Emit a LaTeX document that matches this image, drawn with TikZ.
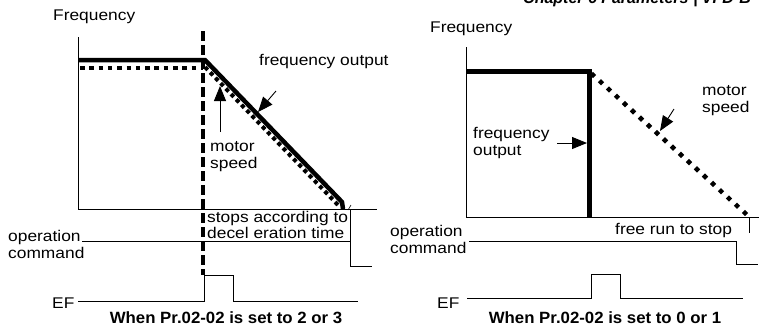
\documentclass[tikz,border=0pt]{standalone}
\usepackage{fontspec}
\setmainfont{Liberation Sans}
\newfontfamily\labfont[FakeStretch=1.12]{Liberation Sans}
\newfontfamily\capfont[FakeStretch=1.03]{Liberation Sans}
\usetikzlibrary{arrows.meta,calc}
\begin{document}
\begin{tikzpicture}[x=1pt,y=-1pt,
  lbl/.style={font=\labfont\fontsize{15.5}{17}\selectfont, inner sep=0pt, anchor=base west},
  captext/.style={font=\capfont\bfseries\fontsize{16.3}{18}\selectfont, inner sep=0pt, anchor=base},
  hdr/.style={font=\bfseries\itshape\fontsize{16}{18}\selectfont, inner sep=0pt, anchor=base west},
  axisline/.style={line width=0.9pt},
  sigline/.style={line width=0.9pt},
  freqline/.style={line width=4.5pt},
  speedsq/.style={line width=4.5pt, dash pattern=on 4.5pt off 4.8pt},
  cutline/.style={line width=3.5pt, dash pattern=on 10pt off 4pt},
  pointer/.style={line width=0.9pt, -{Triangle[length=15pt,width=12pt]}},
  dotfill/.style={fill=black}
]
\useasboundingbox (0,0) rectangle (761,330);
\clip (0,0) rectangle (761,330);

% header (cut off at top)
\node[hdr] (hdr) at (523,3.5) {Chapter 6 Parameters | VFD-B};

% ================= LEFT PANEL =================
\coordinate (Ltop) at (78,37);
\coordinate (Lorig) at (78,209);
\coordinate (Lend) at (377,209);
\draw[axisline] (Ltop) -- (Lorig) -- (Lend);

\node[lbl] (Lfreq) at (53,20.5) {Frequency};

% frequency output
\coordinate (Lf0) at (78,60);
\coordinate (Lf1) at (205,60);
\coordinate (Lf2) at (342,202);
\coordinate (Lf3) at (343,209);
\draw[freqline] (Lf0) -- (Lf1) -- (Lf2) -- (Lf3);

% motor speed (square dots)
\coordinate (Ls0) at (80,68);
\coordinate (Ls1) at (203,68);
\coordinate (Ls2) at (205,67);
\coordinate (Ls3) at (338,205);
\draw[speedsq] (Ls0) -- (Ls1);
\draw[speedsq, dash pattern=on 4pt off 3.5pt, line width=4pt] (Ls2) -- (Ls3);

% dashed vertical cut
\coordinate (Lc0) at (203,31);
\coordinate (Lc1) at (203,275);
\draw[cutline] (Lc0) -- (Lc1);

% labels
\node[lbl] (Lfo) at (259,65) {frequency output};
\coordinate (Lfoa) at (276,91);
\coordinate (Lfob) at (258,112);
\draw[pointer] (Lfoa) -- (Lfob);

\node[lbl] (Lms1) at (210,151) {motor};
\node[lbl] (Lms2) at (210,168) {speed};
\coordinate (Lmsa) at (220,132);
\coordinate (Lmsb) at (220,86);
\draw[pointer] (Lmsa) -- (Lmsb);

\node[lbl] (Lst1) at (207,222) {stops according to};
\node[lbl] (Lst2) at (207,238) {decel eration time};

% stop marker
\coordinate (Lm0) at (350,210);
\coordinate (Lm1) at (350,241);
\draw[sigline] (Lm0) -- (Lm1);
\coordinate (Lt0) at (348,210);
\coordinate (Lt1) at (351,205);
\draw[line width=0.6pt] (Lt0) -- (Lt1);

% operation command
\node[lbl] (Lop1) at (8,241) {operation};
\node[lbl] (Lop2) at (8,258) {command};
\coordinate (Lo0) at (82,241);
\coordinate (Lo1) at (350,241);
\coordinate (Lo2) at (350,266);
\coordinate (Lo3) at (372,266);
\draw[sigline] (Lo0) -- (Lo1) -- (Lo2) -- (Lo3);

% EF
\node[lbl] (Lef) at (52,308) {EF};
\coordinate (Le0) at (78,301);
\coordinate (Le1) at (204,301);
\coordinate (Le2) at (204,275);
\coordinate (Le3) at (233,275);
\coordinate (Le4) at (233,301);
\coordinate (Le5) at (358,301);
\draw[sigline] (Le0) -- (Le1) -- (Le2) -- (Le3) -- (Le4) -- (Le5);

\node[captext] (Lcap) at (226,323) {When Pr.02-02 is set to 2 or 3};

% ================= RIGHT PANEL =================
\coordinate (Rtop) at (466,47);
\coordinate (Rorig) at (466,217);
\coordinate (Rend) at (759,217);
\draw[axisline] (Rtop) -- (Rorig) -- (Rend);

\node[lbl] (Rfreq) at (430,32) {Frequency};

% frequency output
\coordinate (Rf0) at (466,71);
\coordinate (Rf1) at (589,71);
\coordinate (Rf2) at (589,217);
\draw[freqline, line width=5pt] (Rf0) -- (Rf1) -- (Rf2);

% motor speed (diamond dots)
\coordinate (Rs0) at (593,75);
\coordinate (Rs1) at (745,213);
\foreach \i in {0,...,19} {
  \fill[dotfill] ($(Rs0)!\i/19!(Rs1)$) +(0,-3.2) -- +(3.2,0) -- +(0,3.2) -- +(-3.2,0) -- cycle;
}

\node[lbl] (Rms1) at (702,95) {motor};
\node[lbl] (Rms2) at (702,112) {speed};
\coordinate (Rmsa) at (674,109);
\coordinate (Rmsb) at (660,131);
\draw[pointer] (Rmsa) -- (Rmsb);

\node[lbl] (Rfo1) at (473,138) {frequency};
\node[lbl] (Rfo2) at (473,155) {output};
\coordinate (Rfoa) at (557,143);
\coordinate (Rfob) at (587,143);
\draw[pointer] (Rfoa) -- (Rfob);

% free run marker
\coordinate (Rm0) at (749,217);
\coordinate (Rm1) at (749,233);
\draw[sigline] (Rm0) -- (Rm1);
\node[lbl] (Rfr) at (615,234) {free run to stop};

% operation command
\node[lbl] (Rop1) at (390,236) {operation};
\node[lbl] (Rop2) at (390,253) {command};
\coordinate (Ro0) at (469,241);
\coordinate (Ro1) at (736,241);
\coordinate (Ro2) at (736,264);
\coordinate (Ro3) at (758,264);
\draw[sigline] (Ro0) -- (Ro1) -- (Ro2) -- (Ro3);

% EF
\node[lbl] (Ref) at (437,308) {EF};
\coordinate (Re0) at (467,298);
\coordinate (Re1) at (591,298);
\coordinate (Re2) at (591,274);
\coordinate (Re3) at (620,274);
\coordinate (Re4) at (620,298);
\coordinate (Re5) at (743,298);
\draw[sigline] (Re0) -- (Re1) -- (Re2) -- (Re3) -- (Re4) -- (Re5);

\node[captext] (Rcap) at (605,323) {When Pr.02-02 is set to 0 or 1};
\end{tikzpicture}
\end{document}
